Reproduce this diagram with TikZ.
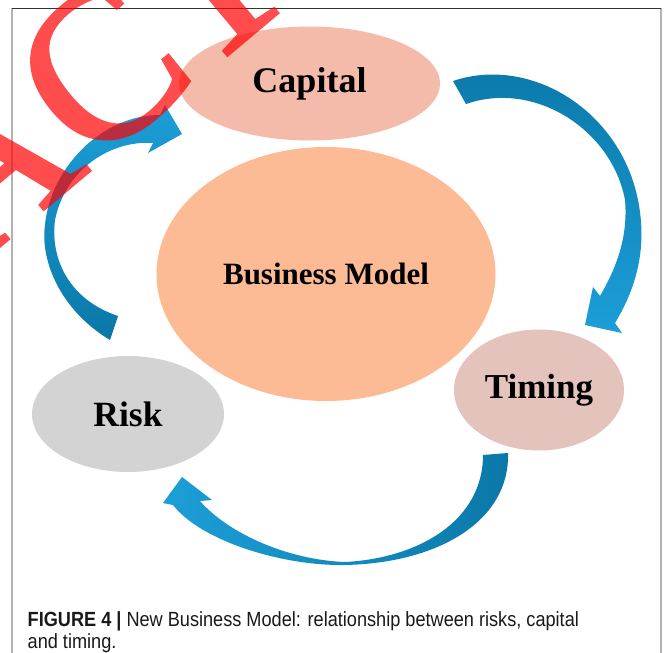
\documentclass[tikz,border=0pt]{standalone}
\usepackage{fontspec}
\usetikzlibrary{shapes.geometric}
\newfontfamily\labelfont{Liberation Serif}
\newfontfamily\stampfont[FakeBold=1.4]{Liberation Serif}
\newfontfamily\capfont[FakeStretch=0.885]{Liberation Sans}
\definecolor{capfill}{RGB}{244,187,170}
\definecolor{bmfill}{RGB}{253,187,149}
\definecolor{riskfill}{RGB}{211,211,211}
\definecolor{timfill}{RGB}{228,195,189}
\definecolor{arrdark}{RGB}{10,120,168}
\definecolor{arrlight}{RGB}{28,158,216}
\tikzset{
	bubble/.style={ellipse, inner sep=0pt, font=\labelfont\bfseries},
	captext/.style={anchor=base west, inner sep=0pt, text=black!90, font=\capfont\fontsize{20.5}{22}\selectfont}
}

\begin{document}
\begin{tikzpicture}[x=1pt,y=-1pt]
				\useasboundingbox (0,0) rectangle (664,653);
				\fill[white] (0,0) rectangle (664,653);
				
				% frame
				\draw[black!30, line width=1.4pt] (12,653) -- (12,8);
				\draw[black!30, line width=1.4pt] (661,8) -- (661,653);
				\draw[black!80, line width=0.9pt] (12,8) -- (661,8);
				
				% bubbles
				\node[bubble, fill=capfill, minimum width=261pt, minimum height=114pt] (cap) at (309.5,83.5) {\fontsize{36}{40}\selectfont Capital};
				\node[bubble, fill=bmfill, minimum width=339pt, minimum height=254pt] (bm) at (326,274) {\fontsize{31}{36}\selectfont Business Model};
				\node[bubble, fill=riskfill, minimum width=192pt, minimum height=116pt] (risk) at (128,414) {\fontsize{35.5}{40}\selectfont Risk};
				\node[bubble, fill=timfill, minimum width=170pt, minimum height=121pt] (tim) at (539,390) {\fontsize{35}{40}\selectfont Timing};
				
				% capital to timing
				\shade[top color=arrdark, bottom color=arrlight] (453,81) .. controls (530,55) and (620,110) .. (638,200) .. controls (648,250) and (635,290) .. (615,323) -- (622,333) -- (585,325) -- (593,287) -- (600,296) .. controls (618,265) and (628,235) .. (625,200) .. controls (612,130) and (535,80) .. (466,104) -- cycle;
				
				% timing to risk
				\shade[left color=arrlight, right color=arrdark] (483,455) -- (508,453) .. controls (510,520) and (440,563) .. (345,565) .. controls (280,566) and (200,540) .. (173,505) -- (163,503) -- (182,477) -- (212,500) -- (200,501) .. controls (230,535) and (290,560) .. (345,562) .. controls (420,558) and (483,520) .. (483,455) -- cycle;
				
				% risk to capital
				\shade[top color=arrlight, bottom color=arrdark] (118,316) -- (110,340) .. controls (60,310) and (40,260) .. (45,225) .. controls (50,170) and (100,115) .. (160,115) -- (165,105) -- (182,134) -- (148,153) -- (153,143) .. controls (110,140) and (65,170) .. (55,220) .. controls (50,260) and (70,300) .. (118,316) -- cycle;
				
				% caption
				\node[captext] (caption1) at (27.5,626.5) {\textbf{FIGURE 4 |} New Business Model: relationship between risks, capital};
				\node[captext] (caption2) at (27.5,648) {and timing.};
				
				% stamp
				\begin{scope}[transparency group, opacity=0.7]
					\clip (0,0) rectangle (664,653);
					\node[anchor=base west, rotate=40, inner sep=0pt, text=red, font=\stampfont\fontsize{217}{217}\selectfont] (stamp) at (-454,627) {RETRACTED};
				\end{scope}
			\end{tikzpicture}
\end{document}
